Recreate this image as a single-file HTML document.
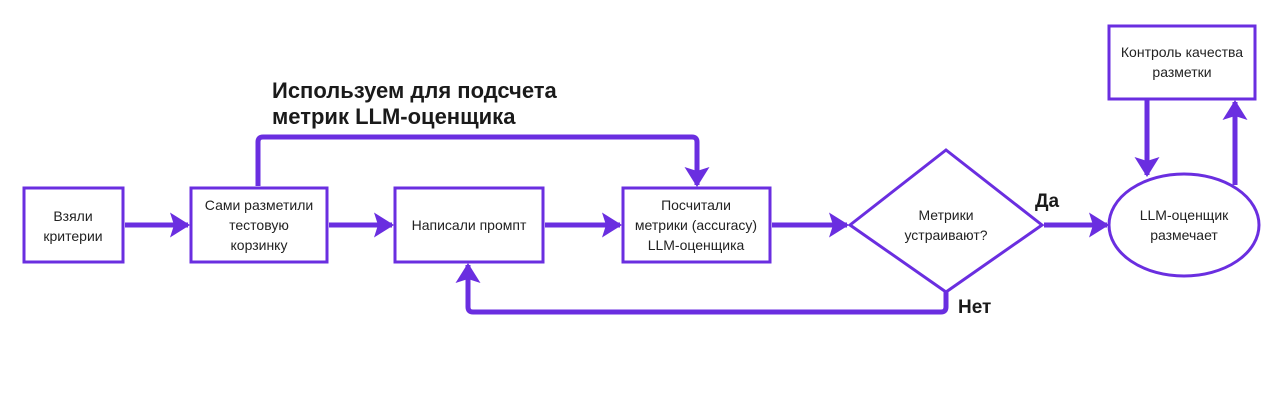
<!DOCTYPE html>
<html><head><meta charset="utf-8"><style>
html,body{margin:0;padding:0;background:#fff;}
svg{display:block;}
text{font-family:"Liberation Sans","DejaVu Sans",sans-serif;fill:#222;}
.n{font-size:14px;text-anchor:middle;}
.b{font-size:22px;font-weight:bold;fill:#1a1a1a;}
</style></head><body>
<svg width="1280" height="406" viewBox="0 0 1280 406">
<defs>
<marker id="a" markerWidth="5" markerHeight="5" refX="3.6" refY="2.5" orient="auto" markerUnits="strokeWidth">
<path d="M0,0 L4,2.5 L0,5 L0.8,2.5 Z" fill="#6a2ee0"/></marker>
</defs>
<g fill="none" stroke="#6a2ee0" stroke-width="3">
<rect x="24" y="188" width="99" height="74"/>
<rect x="191" y="188" width="136" height="74"/>
<rect x="395" y="188" width="148" height="74"/>
<rect x="623" y="188" width="147" height="74"/>
<polygon points="850,225 946,150 1042,225 946,292"/>
<ellipse cx="1184" cy="225" rx="75" ry="51"/>
<rect x="1109" y="26" width="146" height="73"/>
</g>
<g fill="none" stroke="#6a2ee0" stroke-width="5" stroke-linejoin="round" marker-end="url(#a)">
<path d="M125,225 H188"/>
<path d="M329,225 H392"/>
<path d="M545,225 H620"/>
<path d="M772,225 H847"/>
<path d="M1044,225 H1107"/>
<path d="M258,186 V142 Q258,137 263,137 H692 Q697,137 697,142 V185"/>
<path d="M946,292 V307 Q946,312 941,312 H473 Q468,312 468,307 V265"/>
<path d="M1147,99 V175"/>
<path d="M1235,185 V102"/>
</g>
<text class="n" x="73" y="221">Взяли</text>
<text class="n" x="73" y="241">критерии</text>
<text class="n" x="259" y="210">Сами разметили</text>
<text class="n" x="259" y="230">тестовую</text>
<text class="n" x="259" y="250">корзинку</text>
<text class="n" x="469" y="230">Написали промпт</text>
<text class="n" x="696" y="210">Посчитали</text>
<text class="n" x="696" y="230">метрики (accuracy)</text>
<text class="n" x="696" y="250">LLM-оценщика</text>
<text class="n" x="946" y="220">Метрики</text>
<text class="n" x="946" y="240">устраивают?</text>
<text class="n" x="1184" y="220">LLM-оценщик</text>
<text class="n" x="1184" y="240">размечает</text>
<text class="n" x="1182" y="57">Контроль качества</text>
<text class="n" x="1182" y="77">разметки</text>
<text class="b" x="272" y="98">Используем для подсчета</text>
<text class="b" x="272" y="124">метрик LLM-оценщика</text>
<text class="b" x="1035" y="207" style="font-size:19px">Да</text>
<text class="b" x="958" y="313" style="font-size:19px">Нет</text>
</svg>
</body></html>
